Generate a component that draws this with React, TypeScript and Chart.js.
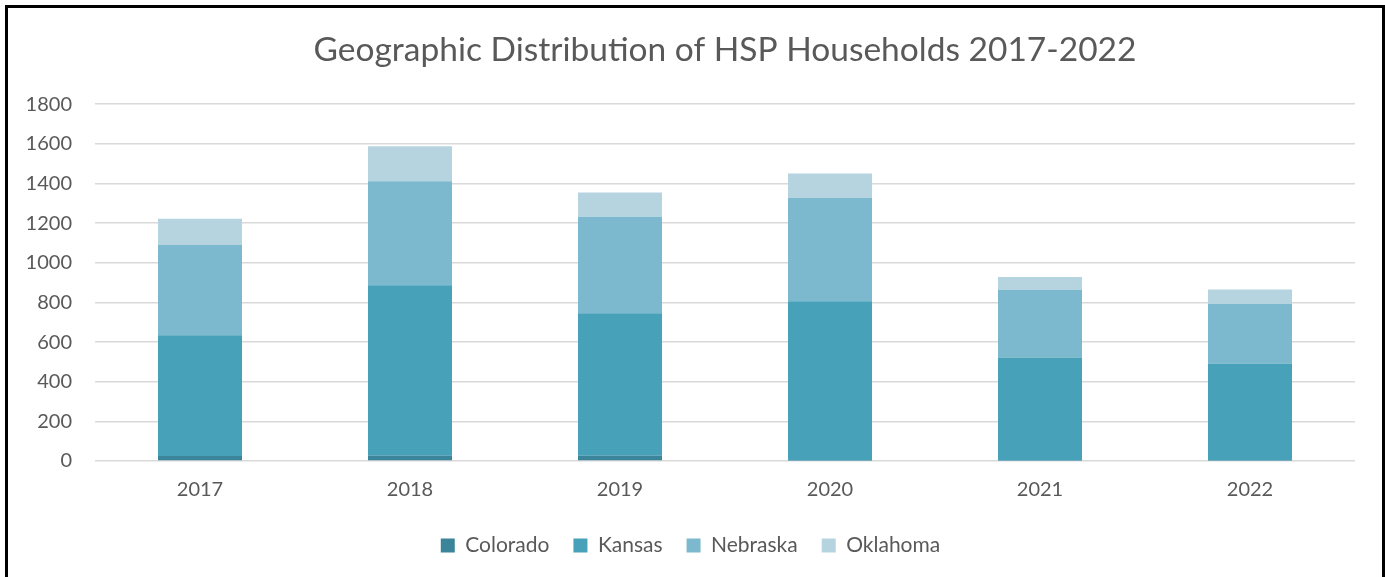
import React, { useEffect, useRef } from "react";
import { Chart, registerables } from "chart.js";

Chart.register(...registerables);

const years = ["2017", "2018", "2019", "2020", "2021", "2022"];
const colorado = [25, 27, 27, 2, 2, 2];
const kansas = [610, 860, 718, 804, 520, 488];
const nebraska = [455, 524, 487, 522, 341, 302];
const oklahoma = [132, 177, 122, 122, 65, 73];
const yTicks = [0, 200, 400, 600, 800, 1000, 1200, 1400, 1600, 1800];

const FONT = "Lato, 'Open Sans', sans-serif";
const TEXT = "#595959";

export default function App() {
  const ref = useRef<HTMLCanvasElement | null>(null);
  useEffect(() => {
    if (!ref.current) return;
    const mk = (label: string, data: number[], color: string) => ({
      label,
      data,
      backgroundColor: color,
      borderWidth: 0,
      barPercentage: 0.4,
      categoryPercentage: 1,
    });
    const chart = new Chart(ref.current, {
      type: "bar",
      data: {
        labels: years,
        datasets: [
          mk("Colorado", colorado, "#3A8599"),
          mk("Kansas", kansas, "#47A1B8"),
          mk("Nebraska", nebraska, "#7DB9CE"),
          mk("Oklahoma", oklahoma, "#B6D4DF"),
        ],
      },
      options: {
        responsive: false,
        animation: false,
        layout: { padding: { left: 18, right: 26, top: 22, bottom: 11 } },
        plugins: {
          title: {
            display: true,
            fullSize: false,
            text: "Geographic Distribution of HSP Households 2017-2022",
            color: TEXT,
            font: { family: FONT, size: 33.5, weight: "normal" },
            padding: { top: 0, bottom: 34 },
          },
          legend: {
            position: "bottom",
            labels: {
              color: TEXT,
              font: { family: FONT, size: 21 },
              boxWidth: 14,
              boxHeight: 14,
              padding: 24,
            },
          },
          tooltip: { enabled: false },
        },
        scales: {
          x: {
            stacked: true,
            grid: { display: false },
            border: { display: false },
            ticks: {
              color: TEXT,
              font: { family: FONT, size: 20, lineHeight: 0.1 },
              padding: 20,
            },
          },
          y: {
            stacked: true,
            min: 0,
            max: 1800,
            afterBuildTicks: (s: any) => {
              s.ticks = yTicks.map((v) => ({ value: v }));
            },
            afterFit: (s: any) => {
              s.width = 69;
            },
            grid: { color: "#d9d9d9", lineWidth: 1.5, drawTicks: false },
            border: { display: false },
            ticks: {
              color: TEXT,
              font: { family: FONT, size: 20 },
              padding: 23,
              callback: (v: any) => String(v),
            },
          },
        },
      },
    });
    return () => chart.destroy();
  }, []);
  return (
    <div
      style={{
        position: "absolute",
        left: 5,
        top: 5,
        width: 1380,
        height: 600,
        border: "3px solid #000",
        boxSizing: "border-box",
        background: "#fff",
      }}
    >
      <canvas ref={ref} width={1373} height={569} style={{ display: "block" }} />
    </div>
  );
}
